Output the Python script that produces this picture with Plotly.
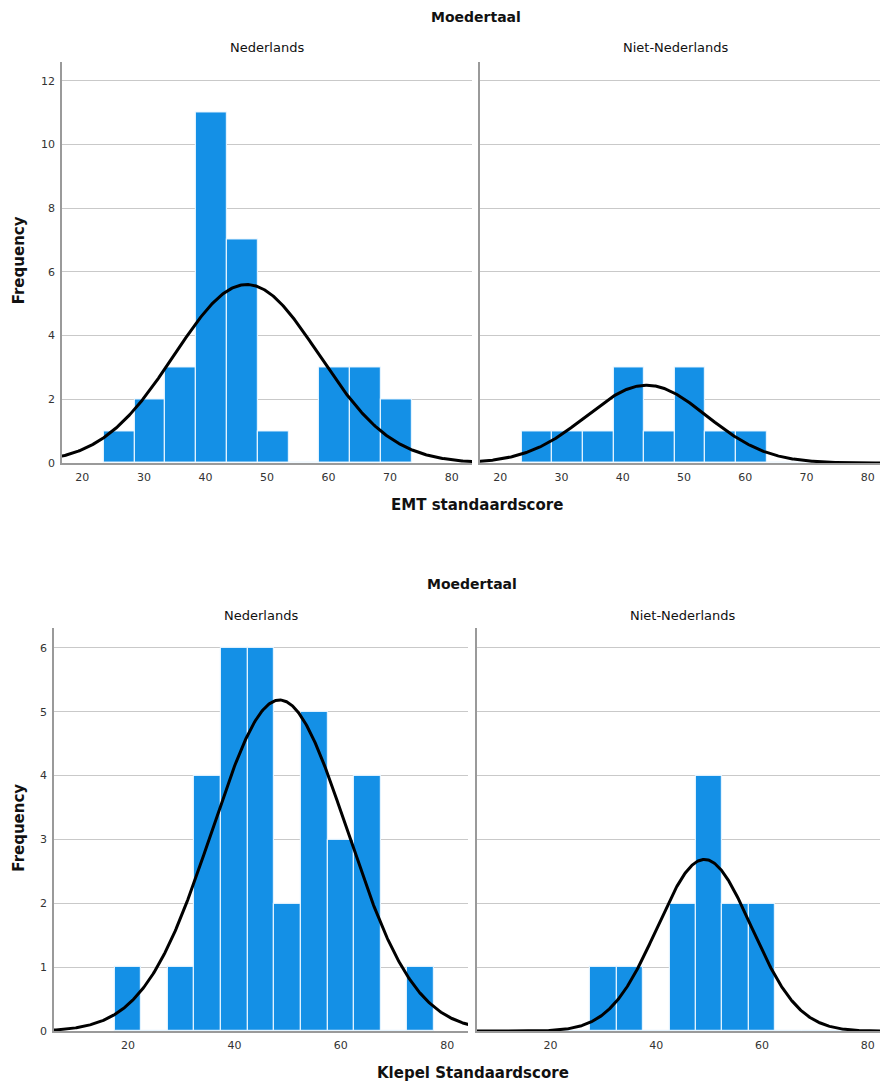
import numpy as np
import plotly.graph_objects as go

# ---- data ----
emt_centers = [26, 31, 36, 41, 46, 51, 56, 61, 66, 71]
emt_ned = [1, 2, 3, 11, 7, 1, 0, 3, 3, 2]
emt_niet = [1, 1, 1, 3, 1, 3, 1, 1, 0, 0]
emt_mean = [46.7, 43.9]
emt_sd = [11.75, 9.8]

klep_centers = [20, 25, 30, 35, 40, 45, 50, 55, 60, 65, 70, 75]
klep_ned = [1, 0, 1, 4, 6, 6, 2, 5, 3, 4, 0, 1]
klep_niet = [0, 0, 1, 1, 0, 2, 4, 2, 2, 0, 0, 0]
klep_mean = [48.5, 49.1]
klep_sd = [12.7, 8.9]

bin_width = 5
groups = ["Nederlands", "Niet-Nederlands"]

BLUE = "#1490E6"
GRID = "#c9c9c9"
AXIS = "#9a9a9a"
FONT = "DejaVu Sans"

W, H = 880, 1092


def px(x):
    return x / W


def py(y):
    return 1 - y / H


fig = go.Figure()


def normal_curve(mean, sd, n):
    xs = np.linspace(0, 95, 600)
    ys = n * bin_width / (sd * np.sqrt(2 * np.pi)) * np.exp(-0.5 * ((xs - mean) / sd) ** 2)
    return xs, ys


panels = [
    ("x", "y", emt_centers, emt_ned, emt_mean[0], emt_sd[0]),
    ("x2", "y2", emt_centers, emt_niet, emt_mean[1], emt_sd[1]),
    ("x3", "y3", klep_centers, klep_ned, klep_mean[0], klep_sd[0]),
    ("x4", "y4", klep_centers, klep_niet, klep_mean[1], klep_sd[1]),
]

for xa, ya, centers, counts, mean, sd in panels:
    fig.add_trace(go.Bar(
        x=centers, y=counts, width=bin_width, xaxis=xa, yaxis=ya,
        marker=dict(color=BLUE, line=dict(color="rgba(230,244,255,0.95)", width=1.2)),
        hoverinfo="x+y", showlegend=False,
    ))
    cx, cy = normal_curve(mean, sd, sum(counts))
    fig.add_trace(go.Scatter(
        x=cx, y=cy, mode="lines", xaxis=xa, yaxis=ya,
        line=dict(color="black", width=3), showlegend=False, hoverinfo="skip",
    ))

tickfont = dict(family=FONT, size=11, color="#333333")

xcommon = dict(showgrid=False, zeroline=False, showline=True, linecolor=AXIS, linewidth=1.5,
               ticks="outside", ticklen=3, tickcolor="rgba(0,0,0,0)", tickfont=tickfont,
               fixedrange=True)
ycommon = dict(showgrid=True, gridcolor=GRID, gridwidth=1, zeroline=False, showline=True,
               linecolor=AXIS, linewidth=1.5, ticks="outside", ticklen=3,
               tickcolor="rgba(0,0,0,0)", tickfont=tickfont, fixedrange=True)

top_y = [py(466), py(62)]
bot_y = [py(1038), py(632)]

fig.update_layout(
    width=W, height=H, margin=dict(l=0, r=0, t=0, b=0),
    paper_bgcolor="white", plot_bgcolor="white", bargap=0,
    font=dict(family=FONT, color="#222222"),
    xaxis=dict(xcommon, domain=[px(62), px(472)], range=[16.7, 83.3],
               tickvals=[20, 30, 40, 50, 60, 70, 80], anchor="y"),
    yaxis=dict(ycommon, domain=top_y, range=[0, 12.6], tickvals=[0, 2, 4, 6, 8, 10, 12], anchor="x"),
    xaxis2=dict(xcommon, domain=[px(480), 1.0], range=[16.7, 82.0],
                tickvals=[20, 30, 40, 50, 60, 70, 80], anchor="y2"),
    yaxis2=dict(ycommon, domain=top_y, range=[0, 12.6], tickvals=[0, 2, 4, 6, 8, 10, 12],
                showticklabels=False, anchor="x2"),
    xaxis3=dict(xcommon, domain=[px(54), px(468)], range=[6.1, 83.9],
                tickvals=[20, 40, 60, 80], anchor="y3"),
    yaxis3=dict(ycommon, domain=bot_y, range=[0, 6.31], tickvals=[0, 1, 2, 3, 4, 5, 6], anchor="x3"),
    xaxis4=dict(xcommon, domain=[px(477), 1.0], range=[6.1, 82.3],
                tickvals=[20, 40, 60, 80], anchor="y4"),
    yaxis4=dict(ycommon, domain=bot_y, range=[0, 6.31], tickvals=[0, 1, 2, 3, 4, 5, 6],
                showticklabels=False, anchor="x4"),
)

ann = []


def text(x, y, s, size, bold=False, angle=0):
    ann.append(dict(x=px(x), y=py(y), xref="paper", yref="paper", text=f"<b>{s}</b>" if bold else s,
                    showarrow=False, textangle=angle, xanchor="center", yanchor="middle",
                    font=dict(family=FONT, size=size, color="#111111")))


# top chart
text(476, 17, "Moedertaal", 14, bold=True)
text(267, 48, groups[0], 13)
text(676, 48, groups[1], 13)
text(477, 508, "EMT standaardscore", 15, bold=True)
text(19, 262, "Frequency", 15, bold=True, angle=-90)
# bottom chart
text(472, 588, "Moedertaal", 14, bold=True)
text(261, 619, groups[0], 13)
text(683, 619, groups[1], 13)
text(473, 1080, "Klepel Standaardscore", 15, bold=True)
text(19, 833, "Frequency", 15, bold=True, angle=-90)

fig.update_layout(annotations=ann)

fig.write_html(
    "out.html",
    config={"displayModeBar": False},
    post_script="document.body.style.margin='0';document.body.style.overflow='hidden';",
)
